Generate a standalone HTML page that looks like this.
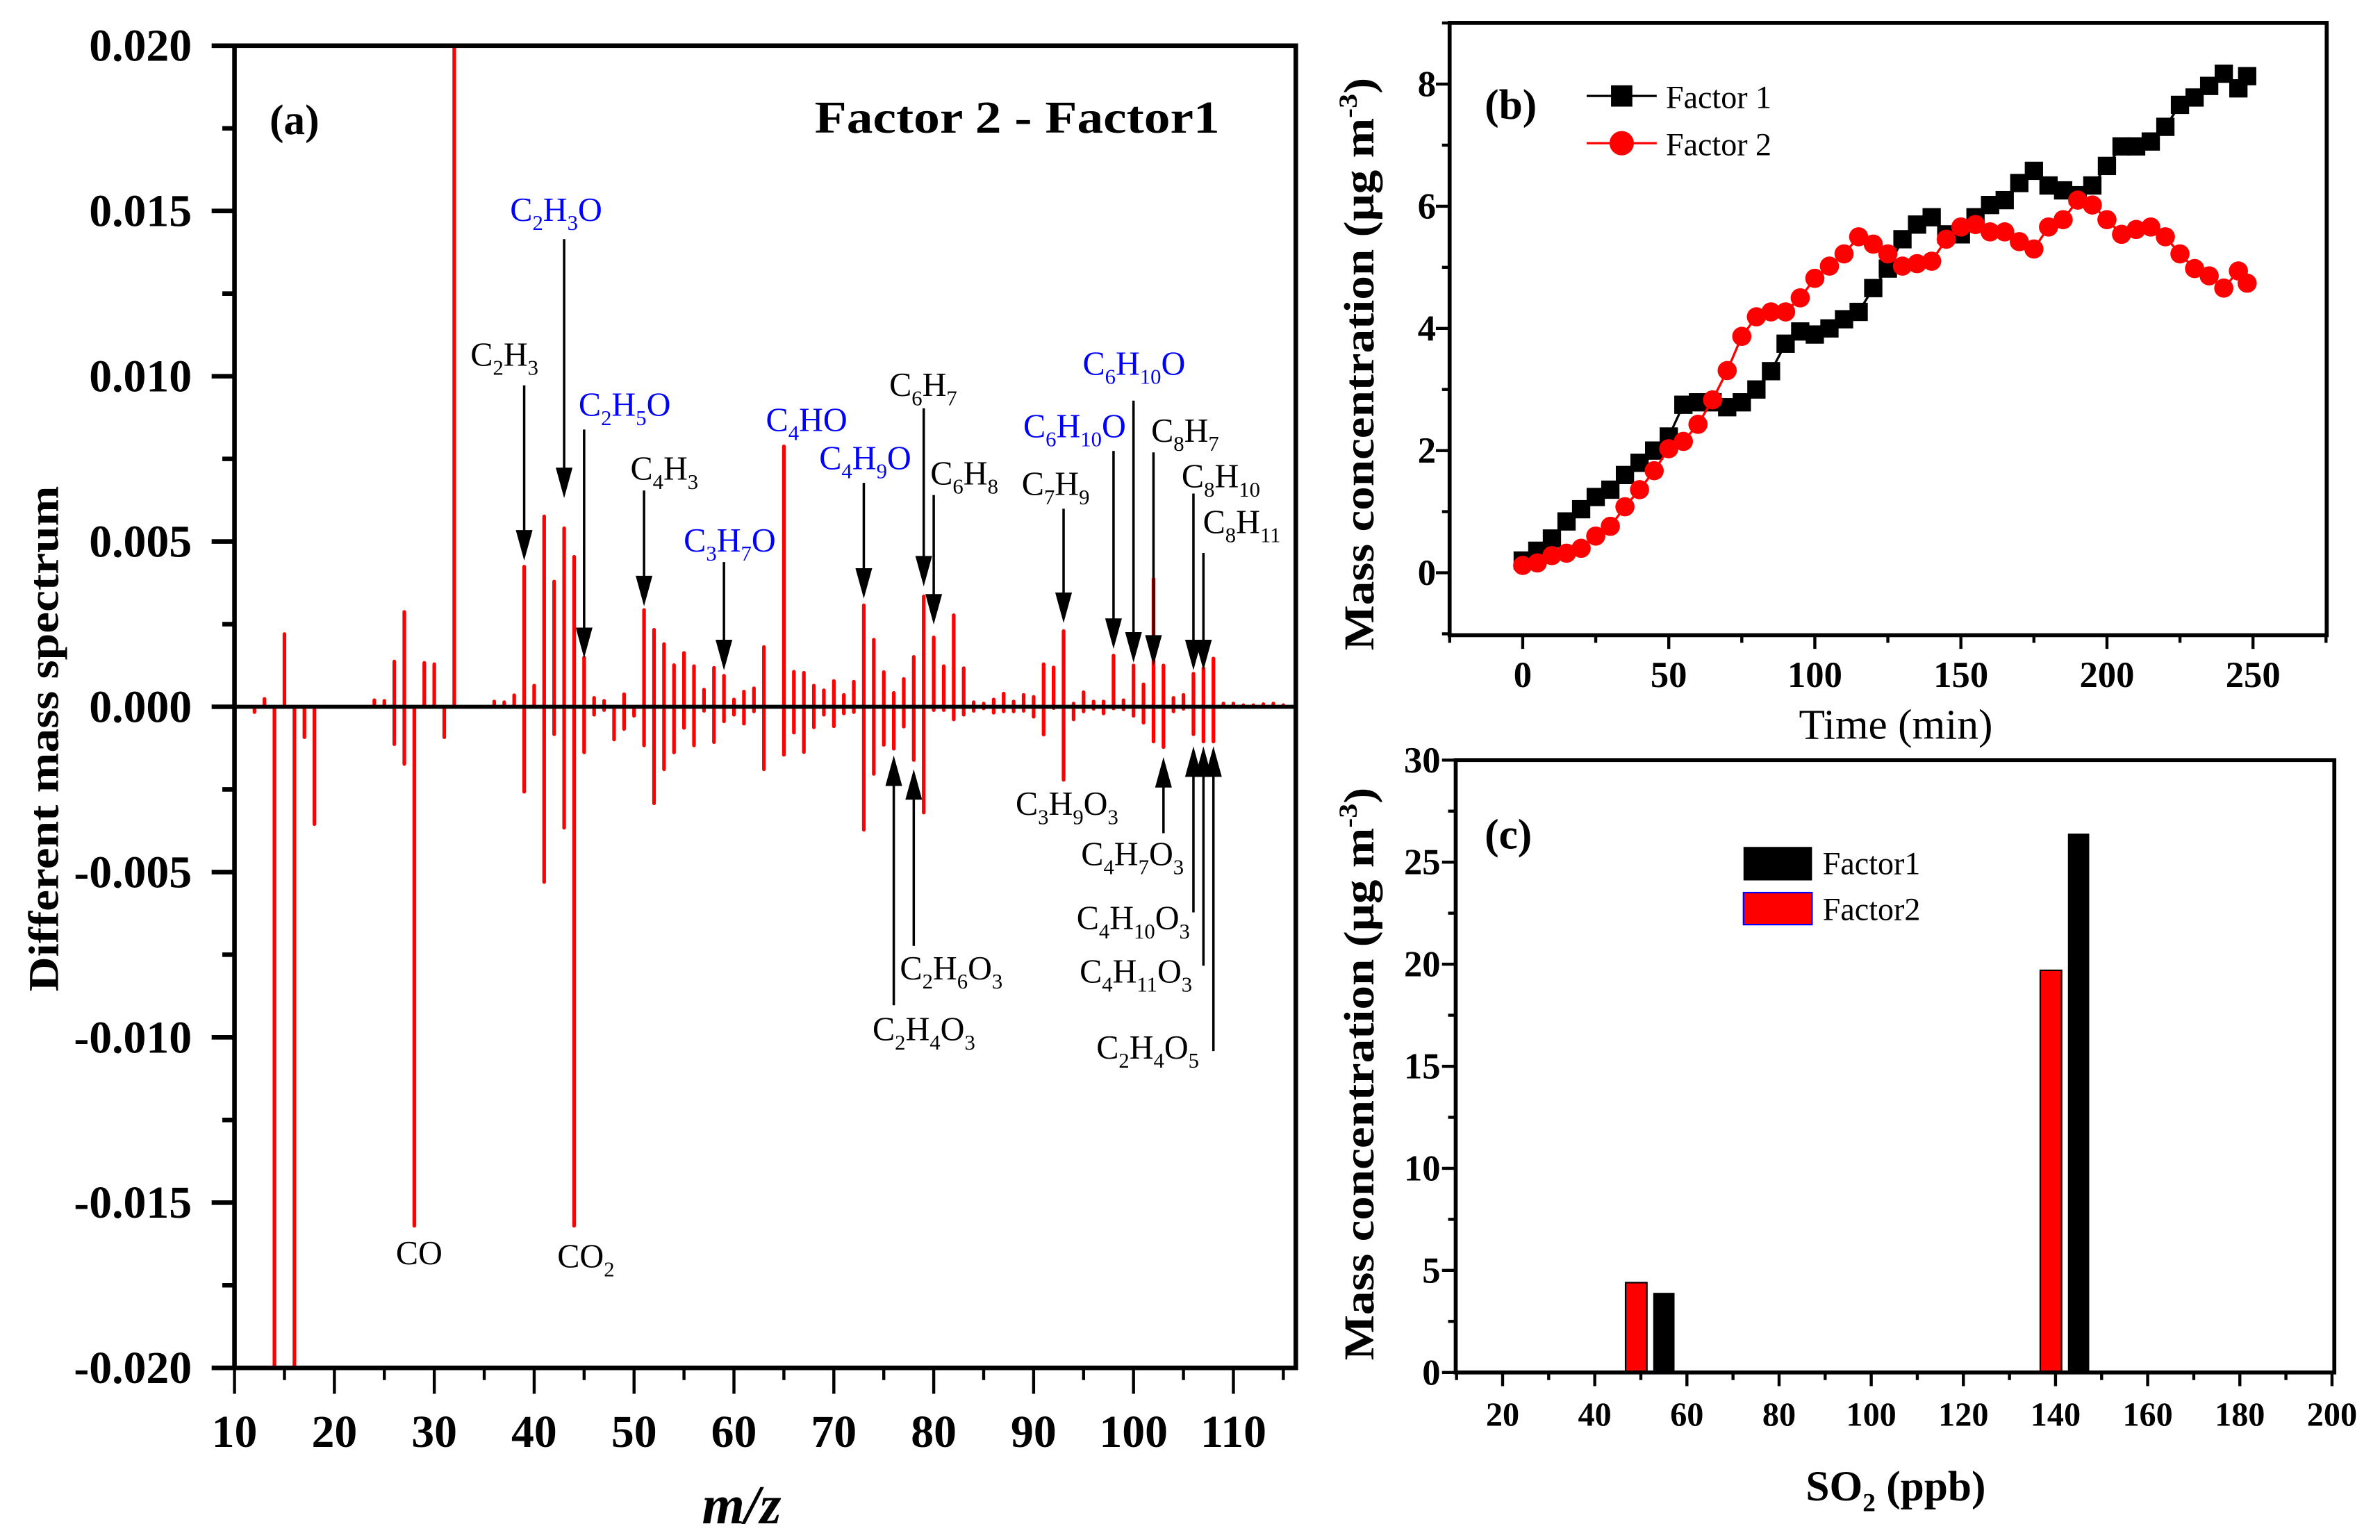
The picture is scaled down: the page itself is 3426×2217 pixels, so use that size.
<!DOCTYPE html>
<html><head><meta charset="utf-8"><style>
html,body{margin:0;padding:0;background:#fff;}
svg{display:block;font-family:"Liberation Serif",serif;}
</style></head><body>
<svg id="fig" width="3426" height="2217" viewBox="0 0 1563 1011" preserveAspectRatio="none" xmlns="http://www.w3.org/2000/svg">
<defs><clipPath id="clipA"><rect x="154" y="30" width="697" height="868"/></clipPath></defs>
<g id="panelA"></g>
<g id="panelB"></g>
<g id="panelC"></g>

<g font-weight="bold" fill="#000">
<text x="177" y="88" font-size="28">(a)</text>
<text x="535" y="87" font-size="30" textLength="266" lengthAdjust="spacingAndGlyphs">Factor 2 - Factor1</text>
<text transform="translate(38,485) rotate(-90)" text-anchor="middle" font-size="28" textLength="332" lengthAdjust="spacingAndGlyphs">Different mass spectrum</text>
<text x="487" y="1000" text-anchor="middle" font-size="36" font-style="italic">m/z</text>
</g>
<g font-size="22" fill="#000">
<text x="309" y="240">C<tspan font-size="14" dy="6">2</tspan><tspan dy="-6">H</tspan><tspan font-size="14" dy="6">3</tspan></text>
<text x="335" y="145" fill="#0000ff">C<tspan font-size="14" dy="6">2</tspan><tspan dy="-6">H</tspan><tspan font-size="14" dy="6">3</tspan><tspan dy="-6">O</tspan></text>
<text x="380" y="273" fill="#0000ff">C<tspan font-size="14" dy="6">2</tspan><tspan dy="-6">H</tspan><tspan font-size="14" dy="6">5</tspan><tspan dy="-6">O</tspan></text>
<text x="414" y="315">C<tspan font-size="14" dy="6">4</tspan><tspan dy="-6">H</tspan><tspan font-size="14" dy="6">3</tspan></text>
<text x="449" y="362" fill="#0000ff">C<tspan font-size="14" dy="6">3</tspan><tspan dy="-6">H</tspan><tspan font-size="14" dy="6">7</tspan><tspan dy="-6">O</tspan></text>
<text x="503" y="283" fill="#0000ff">C<tspan font-size="14" dy="6">4</tspan><tspan dy="-6">HO</tspan></text>
<text x="538" y="308" fill="#0000ff">C<tspan font-size="14" dy="6">4</tspan><tspan dy="-6">H</tspan><tspan font-size="14" dy="6">9</tspan><tspan dy="-6">O</tspan></text>
<text x="584" y="260">C<tspan font-size="14" dy="6">6</tspan><tspan dy="-6">H</tspan><tspan font-size="14" dy="6">7</tspan></text>
<text x="611" y="318">C<tspan font-size="14" dy="6">6</tspan><tspan dy="-6">H</tspan><tspan font-size="14" dy="6">8</tspan></text>
<text x="671" y="325">C<tspan font-size="14" dy="6">7</tspan><tspan dy="-6">H</tspan><tspan font-size="14" dy="6">9</tspan></text>
<text x="672" y="287" fill="#0000ff">C<tspan font-size="14" dy="6">6</tspan><tspan dy="-6">H</tspan><tspan font-size="14" dy="6">10</tspan><tspan dy="-6">O</tspan></text>
<text x="711" y="246" fill="#0000ff">C<tspan font-size="14" dy="6">6</tspan><tspan dy="-6">H</tspan><tspan font-size="14" dy="6">10</tspan><tspan dy="-6">O</tspan></text>
<text x="756" y="290">C<tspan font-size="14" dy="6">8</tspan><tspan dy="-6">H</tspan><tspan font-size="14" dy="6">7</tspan></text>
<text x="776" y="320">C<tspan font-size="14" dy="6">8</tspan><tspan dy="-6">H</tspan><tspan font-size="14" dy="6">10</tspan></text>
<text x="790" y="350">C<tspan font-size="14" dy="6">8</tspan><tspan dy="-6">H</tspan><tspan font-size="14" dy="6">11</tspan></text>
<text x="573" y="683">C<tspan font-size="14" dy="6">2</tspan><tspan dy="-6">H</tspan><tspan font-size="14" dy="6">4</tspan><tspan dy="-6">O</tspan><tspan font-size="14" dy="6">3</tspan></text>
<text x="591" y="643">C<tspan font-size="14" dy="6">2</tspan><tspan dy="-6">H</tspan><tspan font-size="14" dy="6">6</tspan><tspan dy="-6">O</tspan><tspan font-size="14" dy="6">3</tspan></text>
<text x="667" y="535">C<tspan font-size="14" dy="6">3</tspan><tspan dy="-6">H</tspan><tspan font-size="14" dy="6">9</tspan><tspan dy="-6">O</tspan><tspan font-size="14" dy="6">3</tspan></text>
<text x="710" y="568">C<tspan font-size="14" dy="6">4</tspan><tspan dy="-6">H</tspan><tspan font-size="14" dy="6">7</tspan><tspan dy="-6">O</tspan><tspan font-size="14" dy="6">3</tspan></text>
<text x="707" y="610">C<tspan font-size="14" dy="6">4</tspan><tspan dy="-6">H</tspan><tspan font-size="14" dy="6">10</tspan><tspan dy="-6">O</tspan><tspan font-size="14" dy="6">3</tspan></text>
<text x="709" y="645">C<tspan font-size="14" dy="6">4</tspan><tspan dy="-6">H</tspan><tspan font-size="14" dy="6">11</tspan><tspan dy="-6">O</tspan><tspan font-size="14" dy="6">3</tspan></text>
<text x="720" y="695">C<tspan font-size="14" dy="6">2</tspan><tspan dy="-6">H</tspan><tspan font-size="14" dy="6">4</tspan><tspan dy="-6">O</tspan><tspan font-size="14" dy="6">5</tspan></text>
<text x="260" y="830">CO</text>
<text x="366" y="832">CO<tspan font-size="14" dy="6">2</tspan></text>
</g>

<g fill="#000">
<text x="975" y="78" font-size="28" font-weight="bold">(b)</text>
<text transform="translate(902,239) rotate(-90)" text-anchor="middle" font-size="28" font-weight="bold" textLength="376" lengthAdjust="spacingAndGlyphs">Mass concentration (μg m<tspan dy="-11" font-size="17">-3</tspan><tspan dy="11">)</tspan></text>
<text x="1245" y="485" text-anchor="middle" font-size="28">Time (min)</text>
<g>
<line x1="1042" y1="63" x2="1088" y2="63" stroke="#000" stroke-width="1.5"/>
<rect x="1058" y="56" width="14" height="14" fill="#000"/>
<text x="1094" y="71" font-size="21">Factor 1</text>
<line x1="1042" y1="94" x2="1088" y2="94" stroke="#ff0000" stroke-width="1.5"/>
<circle cx="1065" cy="94" r="8" fill="#ff0000"/>
<text x="1094" y="102" font-size="21">Factor 2</text>
</g>
</g>

<g fill="#000">
<text x="975" y="557" font-size="28" font-weight="bold">(c)</text>
<text transform="translate(902,705) rotate(-90)" text-anchor="middle" font-size="28" font-weight="bold" textLength="376" lengthAdjust="spacingAndGlyphs">Mass concentration (μg m<tspan dy="-11" font-size="17">-3</tspan><tspan dy="11">)</tspan></text>
<text x="1245" y="985" text-anchor="middle" font-size="28" font-weight="bold">SO<tspan font-size="17" dy="7">2</tspan><tspan dy="-7"> (ppb)</tspan></text>
<g>
<rect x="1145" y="556" width="45" height="22" fill="#000"/>
<text x="1197" y="574" font-size="21">Factor1</text>
<rect x="1145" y="586" width="45" height="21" fill="#ff0000" stroke="#0000ff" stroke-width="1"/>
<text x="1197" y="604" font-size="21">Factor2</text>
</g>
</g>
</svg>
<script>
// ---------- Panel (a) data (units of 1e-3) ----------
const mzValues = [12,13,14,15,16,17,18,24,25,26,27,28,29,30,31,32,36,37,38,39,40,41,42,43,44,45,46,47,48,49,50,51,52,53,54,55,56,57,58,59,60,61,62,63,65,66,67,68,69,70,71,72,73,74,75,76,77,78,79,80,81,82,83,84,85,86,87,88,89,90,91,92,93,94,95,96,97,98,99,100,101,102,103,104,105,106,107,108,109,110,111,112,113,114,115];
const posValues = [0,0.24,0,2.2,0,0,0,0.2,0.18,1.37,2.87,0,1.33,1.29,0,22,0.16,0.14,0.35,4.24,0.64,5.76,3.79,5.4,4.54,1.49,0.27,0.18,0,0.38,0,2.93,2.33,1.9,1.26,1.63,1.23,0.52,1.18,0.94,0.22,0.46,0.56,1.81,7.88,1.06,1.03,0.64,0.5,0.78,0.36,0.76,3.07,2.03,1.05,0.42,0.84,1.51,3.34,2.1,1.23,2.77,1.17,0.14,0.1,0.22,0.4,0.16,0.36,0.3,1.29,1.19,2.29,0.1,0.44,0.16,0.16,1.55,0.2,1.25,0.68,3.87,1.25,0.27,0.36,1.0,1.17,1.46,0.1,0.1,0.05,0.05,0.08,0.1,0.05];
const negValues = [-0.16,0,-22,0,-22,-0.92,-3.55,0,0,-1.13,-1.73,-15.7,0,0,-0.92,0,0,0,0,-2.57,0,-5.3,-0.83,-3.66,-15.7,-1.38,-0.24,-0.1,-0.99,-0.67,-0.27,-1.17,-2.92,-1.89,-1.38,-0.64,-1.17,-0.12,-1.07,-0.44,-0.24,-0.51,-0.14,-1.89,-1.45,-0.78,-1.37,-0.62,-0.24,-0.59,-0.2,-0.16,-3.72,-2.03,-1.15,-1.27,-0.6,-1.61,-3.2,-0.1,-0.1,-0.38,-0.24,-0.12,-0.05,-0.18,-0.14,-0.14,-0.12,-0.3,-0.84,-0.04,-2.21,-0.38,-0.14,-0.06,-0.2,-0.05,-0.08,-0.27,-0.48,-1.05,-1.22,-0.14,-0.06,-0.83,-1.05,-1.05,0,0,0,0,0,0,0];
const yTicksA = ["0.020","0.015","0.010","0.005","0.000","-0.005","-0.010","-0.015","-0.020"];
const yTickValsA = [20,15,10,5,0,-5,-10,-15,-20];
const xTicksA = [10,20,30,40,50,60,70,80,90,100,110];
const arrowDownMz = [39,43,45,51,59,73,79,80,93,98,100,102,106,107];
const arrowDownStartY = [253,157,282,322,369,317,268,325,334,296,263,297,324,363];
const arrowDownTipY = [368,327,432,398,440,393,385,410,409,426,435,437,440,440];
const arrowUpMz = [76,78,103,106,107,108];
const arrowUpStartY = [660,621,547,599,634,690];
const arrowUpTipY = [496,505,497,490,490,490];

// ---------- Panel (b) data ----------
const timeMin = [0,5,10,15,20,25,30,35,40,45,50,55,60,65,70,75,80,85,90,95,100,105,110,115,120,125,130,135,140,145,150,155,160,165,170,175,180,185,190,195,200,205,210,215,220,225,230,235,240,245,248];
const factor1Series = [0.2,0.36,0.56,0.84,1.04,1.24,1.36,1.6,1.8,2.0,2.23,2.75,2.79,2.79,2.71,2.79,3.0,3.3,3.75,3.95,3.9,4.0,4.15,4.27,4.66,4.98,5.46,5.7,5.82,5.54,5.54,5.82,6.02,6.1,6.38,6.58,6.34,6.26,6.18,6.34,6.66,6.98,6.98,7.06,7.3,7.66,7.78,7.97,8.17,7.93,8.13];
const factor2Series = [0.12,0.16,0.28,0.32,0.4,0.6,0.76,1.08,1.36,1.67,2.03,2.15,2.43,2.83,3.31,3.87,4.19,4.27,4.27,4.5,4.82,5.02,5.22,5.5,5.38,5.22,5.02,5.06,5.1,5.46,5.66,5.7,5.58,5.58,5.42,5.3,5.66,5.78,6.1,6.02,5.78,5.54,5.62,5.66,5.5,5.22,4.98,4.86,4.66,4.94,4.74];
const yTicksB = [0,2,4,6,8];
const xTicksB = [0,50,100,150,200,250];

// ---------- Panel (c) data ----------
const so2Levels = [52,142];
const factor1Bars = [3.9,26.4];
const factor2Bars = [4.4,19.7];
const yTicksC = [0,5,10,15,20,25,30];
const xTicksC = [20,40,60,80,100,120,140,160,180,200];

const NS = "http://www.w3.org/2000/svg";
function mk(tag, attrs, parent){const e=document.createElementNS(NS,tag);for(const k in attrs)e.setAttribute(k,attrs[k]);parent.appendChild(e);return e;}

// ===== Panel A =====
const gA = document.getElementById('panelA');
const xA = m => 154 + (m-10)*6.56;
const yA = v => 464 - v*21.7;
const barsG = mk('g',{'clip-path':'url(#clipA)'},gA);


for(let i=0;i<mzValues.length;i++){
  const x=xA(mzValues[i]);
  if(posValues[i]>0){
    const l=mk('line',{x1:x,x2:x,y1:yA(0),y2:yA(posValues[i]),stroke:'#ff0000','stroke-width':2.4,'stroke-linecap':'round'},barsG);
    
    
  }
  if(negValues[i]<0){
    const l=mk('line',{x1:x,x2:x,y1:yA(0),y2:yA(negValues[i]),stroke:'#ff0000','stroke-width':2.4,'stroke-linecap':'round'},barsG);
    
    
  }
}
const zl=mk('line',{x1:154,x2:851,y1:yA(0),y2:yA(0),stroke:'#000','stroke-width':2.6},gA);


const frA=mk('rect',{x:154,y:30,width:697,height:868,fill:'none',stroke:'#000','stroke-width':3},gA);


for(let v=-20; v<=20; v+=2.5){
  const major = Math.abs(v%5)<1e-6;
  mk('line',{x1:154,x2:154-(major?15:8),y1:yA(v),y2:yA(v),stroke:'#000','stroke-width':3},gA);
}
yTicksA.forEach((t,i)=>{
  const tx=mk('text',{x:126,y:yA(yTickValsA[i])+10,'text-anchor':'end','font-size':30,'font-weight':'bold'},gA);
  tx.textContent=t;
  
  
});
for(let m=10;m<=115;m+=5){
  const major = m%10===0;
  mk('line',{x1:xA(m),x2:xA(m),y1:898,y2:898+(major?17:8),stroke:'#000','stroke-width':2},gA);
}
xTicksA.forEach(t=>{
  const tx=mk('text',{x:xA(t),y:950,'text-anchor':'middle','font-size':30,'font-weight':'bold'},gA);
  tx.textContent=t;
  
  
});
function arrow(x,y0,y1){
  const g=mk('g',{},gA);
  const dir = y1>y0?1:-1;
  mk('line',{x1:x,x2:x,y1:y0,y2:y1-dir*16,stroke:'#000','stroke-width':1.6},g);
  mk('polygon',{points:(x-5.5)+','+(y1-dir*20)+' '+(x+5.5)+','+(y1-dir*20)+' '+x+','+y1,fill:'#000'},g);
  return g;
}
arrowDownMz.forEach((m,i)=>{
  const a=arrow(xA(m),arrowDownStartY[i],arrowDownTipY[i]);
  
  
});
arrowUpMz.forEach((m,i)=>{
  const a=arrow(xA(m),arrowUpStartY[i],arrowUpTipY[i]);
  
  
});

// ===== Panel B =====
const gB=document.getElementById('panelB');
const xB = t => 1000 + t*1.9184;
const yB = v => 376 - v*40.1;
const frB=mk('rect',{x:952,y:15,width:576,height:402,fill:'none',stroke:'#000','stroke-width':2.6},gB);


for(let v=-1; v<=9; v+=1){
  const y=yB(v); if(y<15||y>417) continue;
  mk('line',{x1:952,x2:952-(v%2===0?9:5),y1:y,y2:y,stroke:'#000','stroke-width':2},gB);
}
yTicksB.forEach(v=>{
  const tx=mk('text',{x:943,y:yB(v)+8,'text-anchor':'end','font-size':24,'font-weight':'bold'},gB);
  tx.textContent=v;
  
  
});
for(let t=-25;t<=275;t+=25){
  mk('line',{x1:xB(t),x2:xB(t),y1:417,y2:417+(t%50===0?9:5),stroke:'#000','stroke-width':2},gB);
}
xTicksB.forEach(t=>{
  const tx=mk('text',{x:xB(t),y:451,'text-anchor':'middle','font-size':24,'font-weight':'bold'},gB);
  tx.textContent=t;
  
  
});
function series(vals,color,shape,name){
  const g=mk('g',{},gB);
  
  
  mk('polyline',{points:vals.map((v,i)=>xB(timeMin[i])+','+yB(v)).join(' '),fill:'none',stroke:color,'stroke-width':1.5},g);
  vals.forEach((v,i)=>{
    let p;
    if(shape==='sq') p=mk('rect',{x:xB(timeMin[i])-6,y:yB(v)-6,width:12,height:12,fill:color},g);
    else p=mk('circle',{cx:xB(timeMin[i]),cy:yB(v),r:6.3,fill:color},g);
    
    
  });
}
series(factor1Series,'#000','sq','series-factor1');
series(factor2Series,'#ff0000','ci','series-factor2');

// ===== Panel C =====
const gC=document.getElementById('panelC');
const xC = s => 986.8 + (s-20)*3.026;
const yC = v => 901 - v*13.4;
for(let i=0;i<so2Levels.length;i++){
  const r=mk('rect',{x:xC(so2Levels[i]-3)-7,y:yC(factor2Bars[i]),width:14,height:yC(0)-yC(factor2Bars[i]),fill:'#ff0000',stroke:'#000','stroke-width':1},gC);
  
  
  const b=mk('rect',{x:xC(so2Levels[i]+3)-7,y:yC(factor1Bars[i]),width:14,height:yC(0)-yC(factor1Bars[i]),fill:'#000'},gC);
  
  
}
const frC=mk('rect',{x:956,y:499,width:577,height:402,fill:'none',stroke:'#000','stroke-width':2.6},gC);


for(let v=0; v<=30; v+=2.5){
  mk('line',{x1:956,x2:956-(v%5===0?9:5),y1:yC(v),y2:yC(v),stroke:'#000','stroke-width':2},gC);
}
yTicksC.forEach(v=>{
  const tx=mk('text',{x:946,y:yC(v)+8,'text-anchor':'end','font-size':24,'font-weight':'bold'},gC);
  tx.textContent=v;
  
  
});
for(let s=10;s<=200;s+=10){
  mk('line',{x1:xC(s),x2:xC(s),y1:901,y2:901+(s%20===0?9:5),stroke:'#000','stroke-width':2},gC);
}
xTicksC.forEach(s=>{
  const tx=mk('text',{x:xC(s),y:936,'text-anchor':'middle','font-size':22,'font-weight':'bold'},gC);
  tx.textContent=s;
  
  
});
</script>
</body></html>
